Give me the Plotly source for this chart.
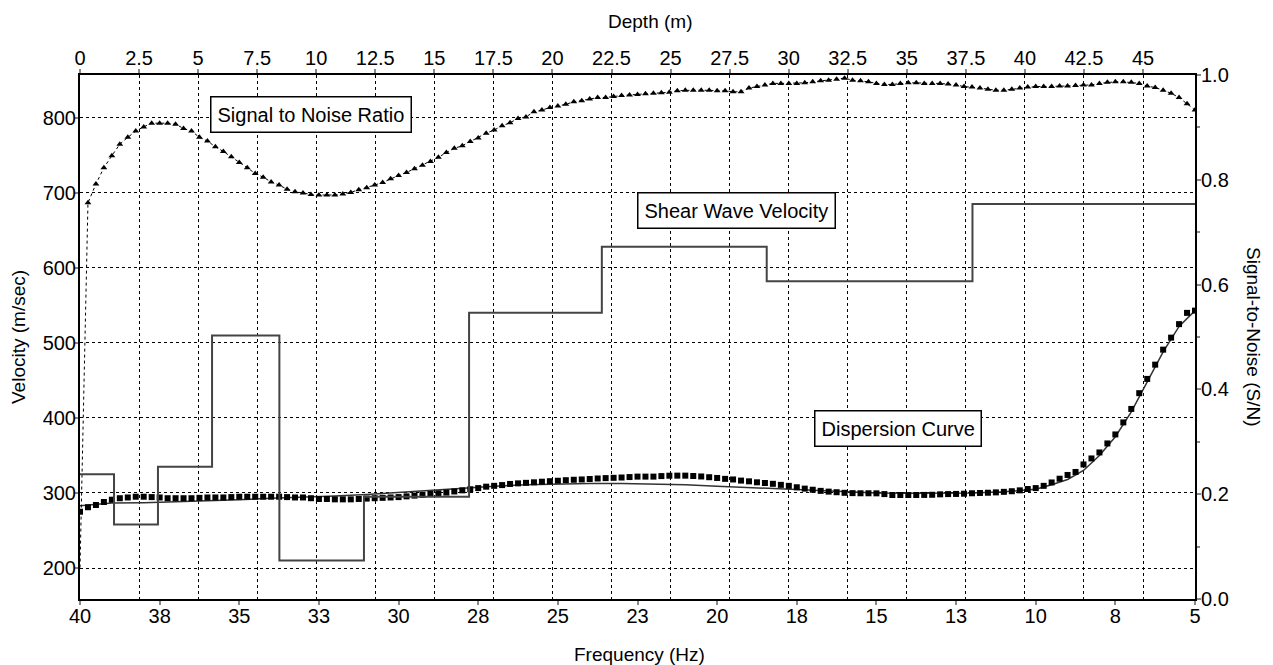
import plotly.graph_objects as go

#----------------------------------------------------------------------
# data
#----------------------------------------------------------------------

freq_hz = [40, 39.75, 39.5, 39.25, 39, 38.75, 38.5, 38.25, 38, 37.75, 37.5, 37.25,
           37, 36.75, 36.5, 36.25, 36, 35.75, 35.5, 35.25, 35, 34.75, 34.5, 34.25,
           34, 33.75, 33.5, 33.25, 33, 32.75, 32.5, 32.25, 32, 31.75, 31.5, 31.25,
           31, 30.75, 30.5, 30.25, 30, 29.75, 29.5, 29.25, 29, 28.75, 28.5, 28.25,
           28, 27.75, 27.5, 27.25, 27, 26.75, 26.5, 26.25, 26, 25.75, 25.5, 25.25,
           25, 24.75, 24.5, 24.25, 24, 23.75, 23.5, 23.25, 23, 22.75, 22.5, 22.25,
           22, 21.75, 21.5, 21.25, 21, 20.75, 20.5, 20.25, 20, 19.75, 19.5, 19.25,
           19, 18.75, 18.5, 18.25, 18, 17.75, 17.5, 17.25, 17, 16.75, 16.5, 16.25,
           16, 15.75, 15.5, 15.25, 15, 14.75, 14.5, 14.25, 14, 13.75, 13.5, 13.25,
           13, 12.75, 12.5, 12.25, 12, 11.75, 11.5, 11.25, 11, 10.75, 10.5, 10.25,
           10, 9.75, 9.5, 9.25, 9, 8.75, 8.5, 8.25, 8, 7.75, 7.5, 7.25,
           7, 6.75, 6.5, 6.25, 6, 5.75, 5.5, 5.25, 5]

sn_ratio = [0.06, 0.756, 0.792, 0.823, 0.846, 0.868, 0.881, 0.893, 0.901, 0.908, 0.908, 0.908,
            0.906, 0.898, 0.893, 0.881, 0.874, 0.863, 0.854, 0.844, 0.833, 0.823, 0.812, 0.805,
            0.796, 0.790, 0.782, 0.777, 0.775, 0.772, 0.771, 0.771, 0.771, 0.773, 0.776, 0.781,
            0.785, 0.790, 0.795, 0.802, 0.808, 0.814, 0.821, 0.828, 0.835, 0.843, 0.852, 0.860,
            0.865, 0.873, 0.880, 0.889, 0.895, 0.903, 0.909, 0.917, 0.920, 0.930, 0.933, 0.938,
            0.941, 0.944, 0.949, 0.951, 0.954, 0.957, 0.957, 0.959, 0.961, 0.962, 0.963, 0.964,
            0.965, 0.966, 0.967, 0.970, 0.971, 0.971, 0.971, 0.971, 0.970, 0.970, 0.968, 0.968,
            0.975, 0.978, 0.981, 0.984, 0.984, 0.984, 0.984, 0.985, 0.987, 0.989, 0.990, 0.992,
            0.994, 0.990, 0.989, 0.987, 0.984, 0.982, 0.982, 0.984, 0.985, 0.985, 0.984, 0.984,
            0.984, 0.983, 0.981, 0.978, 0.977, 0.975, 0.973, 0.971, 0.971, 0.973, 0.975, 0.977,
            0.978, 0.978, 0.978, 0.979, 0.979, 0.980, 0.981, 0.981, 0.984, 0.986, 0.987, 0.987,
            0.986, 0.984, 0.979, 0.976, 0.971, 0.965, 0.957, 0.945, 0.933]

disp_vel = [275, 281, 284, 288, 291, 293, 294, 295, 295, 294.5, 294, 293,
            293, 293, 293, 293.5, 294, 294, 294, 294.5, 295, 295, 295, 295,
            295, 295, 294.5, 294, 294, 293, 292, 292, 291.5, 291.5, 291.5, 292,
            292.5, 293, 293.5, 294, 294.5, 295.5, 296.5, 297.5, 298.7, 299.5, 300.5, 302,
            303.5, 305, 306.5, 308.4, 309.5, 310.5, 312, 312.8, 313.5, 314.2, 315, 315.7,
            316.3, 317, 317.6, 318, 318.6, 319.3, 319.8, 320.2, 320.6, 321.2, 321.8, 321.8,
            321.8, 322.5, 323, 323.1, 323.1, 322.6, 322, 321, 320, 318.8, 318, 316.5,
            315.5, 314.2, 313.3, 312.2, 310.8, 309.5, 307.6, 305.8, 304.3, 302.8, 301.8, 301,
            300.2, 299.8, 299.6, 299.6, 299.5, 298.5, 297.3, 297.3, 297.3, 297.3, 297.4, 297.6,
            298.2, 298.5, 298.7, 299, 299.6, 300, 300.3, 300.8, 301.5, 302.3, 303.5, 305.3,
            306.5, 309.5, 314, 319, 324, 328, 338, 346, 354, 366, 378, 394,
            412, 433, 452, 471, 491, 507, 525, 540, 543]

# modelled dispersion curve (thin solid line)
model_freq = [40, 39.5, 39, 38, 37, 36, 35, 34, 33, 32, 31, 30, 29, 28, 27, 26, 25, 24, 23,
              22, 21, 20, 19, 18, 17, 16, 15, 14, 13, 12, 11, 10, 9.5, 9, 8.5, 8, 7.5, 7,
              6.5, 6, 5.5, 5]
model_vel = [283, 285, 286.5, 287, 288, 289.5, 291, 293, 294, 296, 298, 301, 304, 307, 309,
             311, 312, 312.5, 312.5, 312, 311, 309, 307, 305, 303, 301.5, 300, 299.5,
             299.5, 300, 301.5, 305, 311, 318, 330, 350, 375, 408, 448, 488, 522, 543]

# shear wave velocity profile (layer tops, m)
layer_depth = [0, 1.44, 3.3, 5.59, 8.44, 12.02, 16.47, 22.09, 29.07, 37.78, 47.2]
layer_vs = [325, 258, 335, 510, 210, 295, 540, 628, 582, 685, 685]

freq_ticks = [40, 37.5, 35, 32.5, 30, 27.5, 25, 22.5, 20, 17.5, 15, 12.5, 10, 7.5, 5]
freq_labels = ['40', '38', '35', '33', '30', '28', '25', '23', '20', '18', '15', '13', '10', '8', '5']

#----------------------------------------------------------------------

fnt = 'Arial, Liberation Sans, sans-serif'
grid = dict(showgrid=True, gridcolor='black', gridwidth=1, griddash='3px,3px')

fig = go.Figure()

# Vs profile on the depth axis
fig.add_trace(go.Scatter(x=layer_depth, y=layer_vs, xaxis='x2', yaxis='y', mode='lines',
                         line=dict(color='#444444', width=2, shape='hv'), showlegend=False))

# modelled dispersion curve
fig.add_trace(go.Scatter(x=model_freq, y=model_vel, mode='lines', line=dict(color='#333333', width=1.5),
                         showlegend=False))

# measured dispersion points
fig.add_trace(go.Scatter(x=freq_hz, y=disp_vel, mode='markers',
                         marker=dict(symbol='square', size=6, color='black'), showlegend=False))

# signal to noise
fig.add_trace(go.Scatter(x=freq_hz, y=sn_ratio, yaxis='y2', mode='lines',
                         line=dict(color='black', width=1, dash='3px,3px'), showlegend=False))
fig.add_trace(go.Scatter(x=freq_hz[1:], y=sn_ratio[1:], yaxis='y2', mode='markers',
                         marker=dict(symbol='triangle-up', size=6, color='black'), showlegend=False))

axis_line = dict(showline=True, linecolor='black', linewidth=2, mirror=False, zeroline=False,
                 ticks='outside', ticklen=4, tickwidth=2, tickcolor='#888888', automargin=False,
                 tickfont=dict(family=fnt, size=20, color='black'))

# the page adds an 8px body margin, so the figure is offset by 8px
fig.update_layout(
    width=1265, height=657,
    margin=dict(l=72, r=78, t=67, b=66),
    paper_bgcolor='white', plot_bgcolor='white',
    font=dict(family=fnt, color='black'),
    xaxis=dict(range=[40, 5], tickvals=freq_ticks, ticktext=freq_labels, showgrid=False,
               ticklabelstandoff=-6, **axis_line),
    xaxis2=dict(range=[0, 47.2], overlaying='x', side='top', tick0=0, dtick=2.5, **grid,
                ticklabelstandoff=-4, **axis_line),
    yaxis=dict(range=[158.7, 857], dtick=100, **grid, ticklabelstandoff=-6, **axis_line),
    yaxis2=dict(range=[0, 1], dtick=0.2, tickformat='.1f', overlaying='y', side='right', showgrid=False,
                ticklabelstandoff=-4,
                minor=dict(dtick=0.1, ticks='outside', ticklen=3, tickcolor='#888888'), **axis_line),
)

box = dict(showarrow=False, xref='paper', yref='paper', xanchor='center', yanchor='middle',
           bordercolor='black', borderwidth=1.5, borderpad=6, bgcolor='white',
           font=dict(family=fnt, size=20, color='black'))

fig.add_annotation(text='Signal to Noise Ratio', x=(311 - 80) / 1115, y=(599 - 114) / 524, **box)
fig.add_annotation(text='Shear Wave Velocity', x=(736 - 80) / 1115, y=(599 - 210) / 524, **box)
fig.add_annotation(text='Dispersion Curve', x=(898 - 80) / 1115, y=(599 - 428) / 524, **box)

# axis titles
ttl = dict(showarrow=False, xref='paper', yref='paper', xanchor='center', yanchor='middle',
           font=dict(family=fnt, size=19, color='black'))
fig.add_annotation(text='Frequency (Hz)', x=(639 - 80) / 1115, y=(599 - 654) / 524, **ttl)
fig.add_annotation(text='Depth (m)', x=(650 - 80) / 1115, y=(599 - 21) / 524, **ttl)
fig.add_annotation(text='Velocity (m/sec)', textangle=-90, x=(18 - 80) / 1115, y=(599 - 337) / 524, **ttl)
# right axis title reads top to bottom
fig.add_annotation(text='Signal-to-Noise (S/N)', textangle=90, x=(1254 - 80) / 1115, y=(599 - 337) / 524, **ttl)

fig.write_html('out.html')
